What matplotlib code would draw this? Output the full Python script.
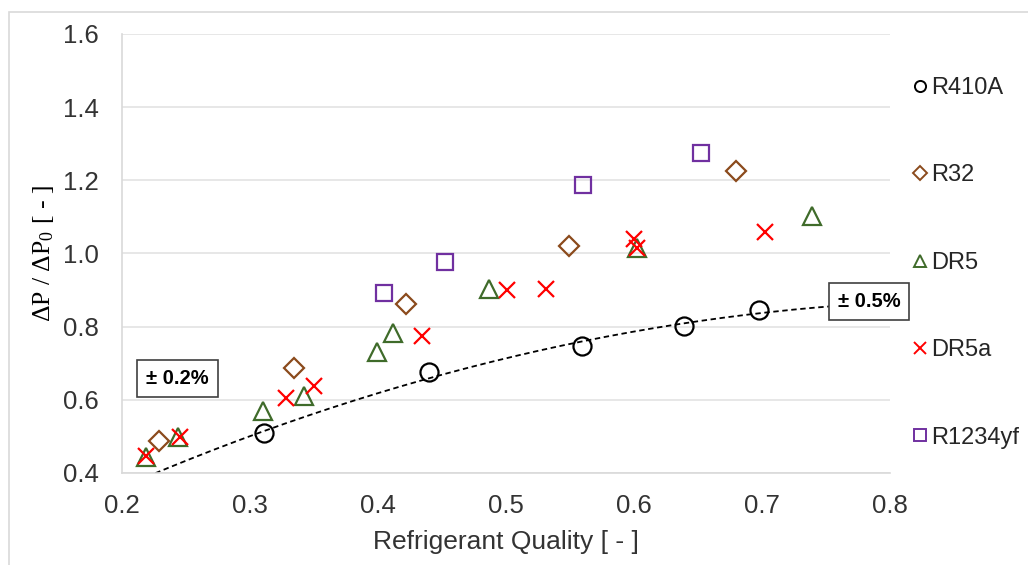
import numpy as np
import matplotlib
matplotlib.use("Agg")
import matplotlib.pyplot as plt
from matplotlib.lines import Line2D
from matplotlib.patches import Rectangle

plt.rcParams["font.family"] = ["Liberation Sans", "DejaVu Sans"]
plt.rcParams["mathtext.fontset"] = "custom"
plt.rcParams["mathtext.rm"] = "Liberation Serif"
plt.rcParams["mathtext.it"] = "Liberation Serif:italic"

# data
r410a_x = [0.311, 0.440, 0.559, 0.639, 0.698]
r410a_y = [0.509, 0.676, 0.747, 0.802, 0.845]

r32_x = [0.229, 0.334, 0.422, 0.549, 0.680]
r32_y = [0.487, 0.687, 0.862, 1.020, 1.226]

dr5_x = [0.219, 0.244, 0.310, 0.342, 0.399, 0.412, 0.487, 0.602, 0.739]
dr5_y = [0.445, 0.498, 0.569, 0.610, 0.730, 0.782, 0.903, 1.015, 1.103]

dr5a_x = [0.219, 0.245, 0.328, 0.350, 0.434, 0.501, 0.531, 0.600, 0.602, 0.702]
dr5a_y = [0.447, 0.498, 0.605, 0.638, 0.775, 0.900, 0.902, 1.040, 1.015, 1.058]

r1234yf_x = [0.405, 0.452, 0.560, 0.652]
r1234yf_y = [0.892, 0.976, 1.187, 1.274]

xticks = [0.2, 0.3, 0.4, 0.5, 0.6, 0.7, 0.8]
yticks = [0.4, 0.6, 0.8, 1.0, 1.2, 1.4, 1.6]

c_r410a = "black"
c_r32 = "#8B4A1C"
c_dr5 = "#3F6B2A"
c_dr5a = "#FF0000"
c_yf = "#7030A0"

fig = plt.figure(figsize=(10.28, 5.65), dpi=100)
ax = fig.add_axes([122/1028, 1-473/565, (890-122)/1028, (473-34)/565])

# chart border (Excel style)
fig.patches.append(Rectangle((9/1028, -0.1), 1.2, 1 - 12/565 + 0.1, transform=fig.transFigure,
                             fill=False, edgecolor="#D9D9D9", linewidth=1.2))

# polynomial trendline (order 2) on R410A
coef = np.polyfit(r410a_x, r410a_y, 2)
xx = np.linspace(0.2, 0.8, 200)
ax.plot(xx, np.polyval(coef, xx), ls=(0, (3, 2)), color="black", lw=1.3, zorder=2)

mew = 1.6
ax.plot(r410a_x, r410a_y, "o", ms=13, mfc="none", mec=c_r410a, mew=mew, zorder=3)
ax.plot(r32_x, r32_y, "D", ms=10, mfc="none", mec=c_r32, mew=mew, zorder=3)
ax.plot(dr5_x, dr5_y, "^", ms=13, mfc="none", mec=c_dr5, mew=mew, zorder=3)
ax.plot(dr5a_x, dr5a_y, "x", ms=12, color=c_dr5a, mew=mew, zorder=4)
ax.plot(r1234yf_x, r1234yf_y, "s", ms=12, mfc="none", mec=c_yf, mew=mew, zorder=3)

ax.set_xlim(0.2, 0.8)
ax.set_ylim(0.4, 1.6)
ax.set_xticks(xticks)
ax.set_yticks(yticks)
ax.set_xticklabels([f"{v:.1f}" for v in xticks])
ax.set_yticklabels([f"{v:.1f}" for v in yticks])
ax.tick_params(length=0, labelsize=18.5, colors="#333333")
ax.tick_params(axis="y", pad=17)
ax.tick_params(axis="x", pad=15)
ax.grid(axis="y", color="#E3E3E3", lw=1.2)
ax.set_axisbelow(True)
for s in ["top", "right"]:
    ax.spines[s].set_visible(False)
for s in ["left", "bottom"]:
    ax.spines[s].set_color("#D9D9D9")
    ax.spines[s].set_linewidth(1.2)

ax.set_xlabel("Refrigerant Quality [ - ]", fontsize=19, color="#333333", labelpad=9)
ax.set_ylabel("ΔP / ΔP$_0$ [ - ]", fontsize=18.5, family="Liberation Serif",
              color="black", labelpad=5)

box = dict(boxstyle="square,pad=0.45", fc="white", ec="#404040", lw=1.2)
ax.text(0.2435, 0.659, "± 0.2%", fontsize=14.5, fontweight="bold", ha="center", va="center",
        bbox=box, zorder=5)
ax.text(0.7835, 0.868, "± 0.5%", fontsize=14.5, fontweight="bold", ha="center", va="center",
        bbox=box, zorder=5)

handles = [
    Line2D([], [], ls="none", marker="o", ms=8, mfc="none", mec=c_r410a, mew=1.4),
    Line2D([], [], ls="none", marker="D", ms=7, mfc="none", mec=c_r32, mew=1.4),
    Line2D([], [], ls="none", marker="^", ms=8, mfc="none", mec=c_dr5, mew=1.4),
    Line2D([], [], ls="none", marker="x", ms=8, color=c_dr5a, mew=1.4),
    Line2D([], [], ls="none", marker="s", ms=8, mfc="none", mec=c_yf, mew=1.4),
]
labels = ["R410A", "R32", "DR5", "DR5a", "R1234yf"]
fig.legend(handles, labels, loc="upper left", bbox_to_anchor=(913/1028, 1-77/565),
           frameon=False, fontsize=17, handlelength=0.6, handletextpad=0.15,
           labelspacing=2.77, borderaxespad=0, borderpad=0, labelcolor="#262626")

fig.savefig("out.png", dpi=100)
